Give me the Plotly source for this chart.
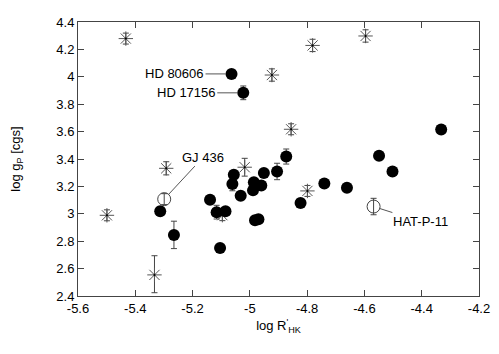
import plotly.graph_objects as go

# planets with measured activity (filled circles)
fill_x = [-5.064, -5.023, -4.332, -4.549, -4.502, -4.873, -4.905, -4.951,
          -5.056, -5.061, -4.986, -4.960, -4.989, -5.032, -5.139, -5.116,
          -5.085, -4.982, -4.970, -5.104, -4.823, -4.740, -4.661, -5.313,
          -5.265]
fill_y = [4.021, 3.883, 3.615, 3.423, 3.309, 3.418, 3.309, 3.297,
          3.285, 3.218, 3.231, 3.206, 3.171, 3.131, 3.103, 3.012,
          3.019, 2.953, 2.960, 2.751, 3.078, 3.221, 3.190, 3.019,
          2.846]
fill_err = [0.0, 0.05, 0.0, 0.0, 0.0, 0.055, 0.06, 0.0,
            0.0, 0.05, 0.0, 0.0, 0.0, 0.0, 0.0, 0.05,
            0.0, 0.0, 0.0, 0.0, 0.0, 0.0, 0.0, 0.03,
            0.10]

# open circles (GJ 436, HAT-P-11)
open_x = [-5.299, -4.568]
open_y = [3.107, 3.053]
open_err = [0.04, 0.06]

# asterisks
star_x = [-5.433, -4.781, -4.596, -4.923, -4.856, -5.292, -5.018, -4.799,
          -5.499, -5.333, -5.096]
star_y = [4.279, 4.229, 4.298, 4.013, 3.617, 3.332, 3.340, 3.167,
          2.989, 2.554, 2.990]
star_err_plus = [0.04, 0.045, 0.045, 0.045, 0.04, 0.048, 0.065, 0.04,
                 0.04, 0.14, 0.04]
star_err_minus = [0.04, 0.045, 0.045, 0.045, 0.04, 0.048, 0.065, 0.04,
                  0.04, 0.13, 0.04]

x_ticks = [-5.6, -5.4, -5.2, -5.0, -4.8, -4.6, -4.4, -4.2]
x_labels = ["-5.6", "-5.4", "-5.2", "-5", "-4.8", "-4.6", "-4.4", "-4.2"]
y_ticks = [2.4, 2.6, 2.8, 3.0, 3.2, 3.4, 3.6, 3.8, 4.0, 4.2, 4.4]
y_labels = ["2.4", "2.6", "2.8", "3", "3.2", "3.4", "3.6", "3.8", "4", "4.2", "4.4"]

labels = [("HD 80606", -5.064, 4.021, -57, 0),
          ("HD 17156", -5.023, 3.883, -57, 0),
          ("GJ 436", -5.299, 3.107, 39, -42),
          ("HAT-P-11", -4.568, 3.053, 47, 15)]

font = "Liberation Sans, Arial, sans-serif"
ink = "#000000"
line_col = "#444444"

fig = go.Figure()

fig.add_trace(go.Scatter(
    x=star_x, y=star_y, mode="markers",
    marker=dict(symbol="asterisk-open", size=12, color="#555555",
                line=dict(width=1, color="#555555")),
    error_y=dict(type="data", symmetric=False, array=star_err_plus,
                 arrayminus=star_err_minus, color="#444444",
                 thickness=1, width=3),
))
fig.add_trace(go.Scatter(
    x=star_x, y=star_y, mode="markers",
    marker=dict(symbol="circle", size=2, color=ink),
))
fig.add_trace(go.Scatter(
    x=fill_x, y=fill_y, mode="markers",
    marker=dict(symbol="circle", size=12, color=ink),
    error_y=dict(type="data", array=fill_err, color="#444444",
                 thickness=1, width=3),
))
fig.add_trace(go.Scatter(
    x=open_x, y=open_y, mode="markers",
    marker=dict(symbol="circle-open", size=13, color="#444444",
                line=dict(width=1, color="#444444")),
    error_y=dict(type="data", array=open_err, color="#444444",
                 thickness=1, width=3),
))

for text, x, y, ax, ay in labels:
    fig.add_annotation(x=x, y=y, text=text, showarrow=True, arrowhead=0,
                       arrowwidth=1, arrowcolor="#555555", ax=ax, ay=ay,
                       standoff=6, font=dict(family=font, size=13, color=ink))

axis_common = dict(showline=True, linecolor=line_col, linewidth=1,
                   mirror="ticks", ticks="inside", ticklen=6,
                   tickcolor=line_col, showgrid=False, zeroline=False,
                   ticklabeloverflow="allow",
                   tickfont=dict(family=font, size=13, color=ink))

fig.update_xaxes(range=[-5.6, -4.2], tickvals=x_ticks, ticktext=x_labels,
                 title=dict(text="log R<sup>'</sup><sub>HK</sub>",
                            font=dict(family=font, size=13, color=ink),
                            standoff=6),
                 **axis_common)
fig.update_yaxes(range=[2.4, 4.4], tickvals=y_ticks, ticktext=y_labels,
                 title=dict(text="log g<sub>P</sub> [cgs]",
                            font=dict(family=font, size=13, color=ink),
                            standoff=32),
                 **axis_common)

# page body adds an 8px offset, so the figure is shrunk to fit the window
fig.update_layout(
    width=491, height=346,
    margin=dict(l=69, r=20, t=7, b=58),
    plot_bgcolor="white", paper_bgcolor="white",
    showlegend=False,
    font=dict(family=font, size=13, color=ink),
)

fig.write_html("out.html")
